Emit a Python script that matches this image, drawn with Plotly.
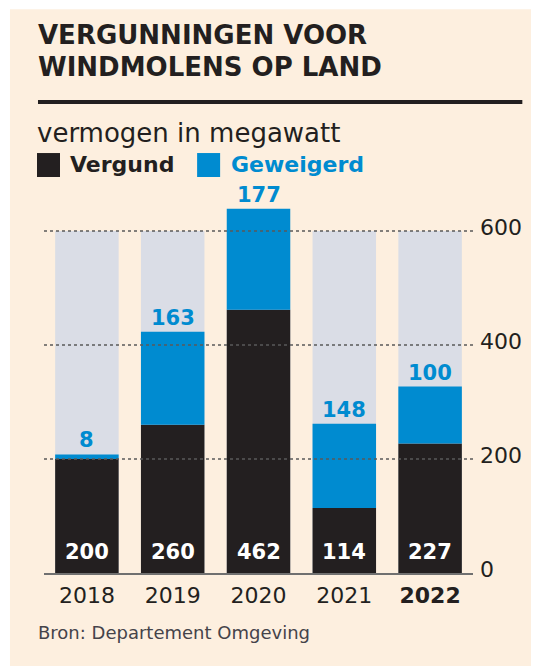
import plotly.graph_objects as go

# ---- data ----
years = ["2018", "2019", "2020", "2021", "2022"]
year_labels = ["2018", "2019", "2020", "2021", "<b>2022</b>"]
vergund = [200, 260, 462, 114, 227]
geweigerd = [8, 163, 177, 148, 100]
background_max = [600, 600, 600, 600, 600]
y_ticks = [0, 200, 400, 600]

title_lines = ["VERGUNNINGEN VOOR", "WINDMOLENS OP LAND"]
subtitle = "vermogen in megawatt"
source = "Bron: Departement Omgeving"

# ---- style ----
BEIGE = "#FDEFDF"
GREY_BAR = "#DADDE6"
BLUE = "#008BD0"
BLACK = "#231F20"
FONT = "DejaVu Sans"

OFF = 8  # page body margin
W, H = 539 - OFF, 666 - OFF
L, R_EDGE, TOP, BOTTOM = 44 - OFF, 472.7 - OFF, 200 - OFF, 573.3 - OFF
PXW = R_EDGE - L
PXH = BOTTOM - TOP
Y_TOP = 654.3


def px_x(px):
    return (px - OFF - L) / PXW


def px_y(py):
    return (BOTTOM - (py - OFF)) / PXH


totals = [v + g for v, g in zip(vergund, geweigerd)]

fig = go.Figure()
fig.add_trace(go.Bar(x=years, y=background_max, marker_color=GREY_BAR,
                     marker_line_width=0, width=0.74, hoverinfo="skip",
                     showlegend=False))
fig.add_trace(go.Bar(x=years, y=vergund, name="Vergund", marker_color=BLACK,
                     marker_line_width=0, width=0.74, showlegend=False))
fig.add_trace(go.Bar(x=years, y=geweigerd, base=vergund, name="Geweigerd",
                     marker_color=BLUE, marker_line_width=0, width=0.74,
                     showlegend=False))

annotations = []
# value labels
for i, (v, t, g) in enumerate(zip(vergund, totals, geweigerd)):
    annotations.append(dict(x=i, y=0, xref="x", yref="y", text=f"<b>{v}</b>",
                            showarrow=False, yanchor="bottom", yshift=7,
                            font=dict(family=FONT, size=21, color="white")))
    annotations.append(dict(x=i, y=t, xref="x", yref="y", text=f"<b>{g}</b>",
                            showarrow=False, yanchor="bottom", yshift=0,
                            font=dict(family=FONT, size=21, color=BLUE)))

# title, subtitle, legend, source
annotations.append(dict(x=px_x(36), y=px_y(35), xref="paper", yref="paper",
                        text=f"<b>{title_lines[0]}</b>", showarrow=False,
                        xanchor="left", yanchor="middle",
                        font=dict(family=FONT, size=26, color=BLACK)))
annotations.append(dict(x=px_x(36), y=px_y(66.5), xref="paper", yref="paper",
                        text=f"<b>{title_lines[1]}</b>", showarrow=False,
                        xanchor="left", yanchor="middle",
                        font=dict(family=FONT, size=26, color=BLACK)))
annotations.append(dict(x=px_x(35), y=px_y(133), xref="paper", yref="paper",
                        text=subtitle, showarrow=False,
                        xanchor="left", yanchor="middle",
                        font=dict(family=FONT, size=26, color=BLACK)))
annotations.append(dict(x=px_x(68), y=px_y(164), xref="paper", yref="paper",
                        text="<b>Vergund</b>", showarrow=False,
                        xanchor="left", yanchor="middle",
                        font=dict(family=FONT, size=22, color=BLACK)))
annotations.append(dict(x=px_x(229), y=px_y(164), xref="paper", yref="paper",
                        text="<b>Geweigerd</b>", showarrow=False,
                        xanchor="left", yanchor="middle",
                        font=dict(family=FONT, size=22, color=BLUE)))
annotations.append(dict(x=px_x(36), y=px_y(633), xref="paper", yref="paper",
                        text=source, showarrow=False,
                        xanchor="left", yanchor="middle",
                        font=dict(family=FONT, size=18, color="#45434a")))

shapes = []
# beige panel
shapes.append(dict(type="rect", xref="paper", yref="paper", layer="below",
                   x0=px_x(10), x1=px_x(560), y0=px_y(9), y1=px_y(700),
                   fillcolor=BEIGE, line_width=0))
# rule under title
shapes.append(dict(type="line", xref="paper", yref="paper",
                   x0=px_x(38), x1=px_x(522), y0=px_y(102), y1=px_y(102),
                   line=dict(color=BLACK, width=4)))
# legend squares
shapes.append(dict(type="rect", xref="paper", yref="paper",
                   x0=px_x(37), x1=px_x(60), y0=px_y(153), y1=px_y(177),
                   fillcolor=BLACK, line_width=0))
shapes.append(dict(type="rect", xref="paper", yref="paper",
                   x0=px_x(197), x1=px_x(220), y0=px_y(153), y1=px_y(177),
                   fillcolor=BLUE, line_width=0))
# dotted gridlines above bars
for t in y_ticks[1:]:
    shapes.append(dict(type="line", xref="paper", yref="y", layer="above",
                       x0=0, x1=1, y0=t, y1=t,
                       line=dict(color="#5a5a5a", width=1.5, dash="dot")))

fig.update_layout(
    width=W, height=H,
    margin=dict(l=L, r=W - R_EDGE, t=TOP, b=H - BOTTOM),
    paper_bgcolor="white",
    plot_bgcolor="rgba(0,0,0,0)",
    barmode="overlay",
    showlegend=False,
    annotations=annotations,
    shapes=shapes,
    xaxis=dict(
        type="category", range=[-0.5, 4.5], tickvals=years, ticktext=year_labels,
        showgrid=False, zeroline=False, showline=True, linecolor="#707070",
        linewidth=2, ticks="", ticklabelstandoff=2,
        tickfont=dict(family=FONT, size=22, color=BLACK), fixedrange=True,
    ),
    yaxis=dict(
        range=[0, Y_TOP], side="right", tickvals=y_ticks,
        ticktext=[str(t) for t in y_ticks], showgrid=False, zeroline=False,
        showline=False, ticks="", ticklabelstandoff=6, ticklabelshift=-4,
        tickfont=dict(family=FONT, size=22, color=BLACK), fixedrange=True,
    ),
)

fig.write_html("out.html")
